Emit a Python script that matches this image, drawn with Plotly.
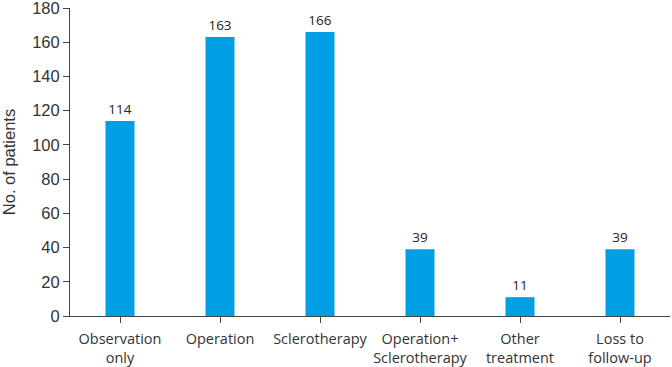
import plotly.graph_objects as go

categories = ["Observation<br>only", "Operation", "Sclerotherapy",
              "Operation+<br>Sclerotherapy", "Other<br>treatment", "Loss to<br>follow-up"]
values = [114, 163, 166, 39, 11, 39]
y_ticks = [0, 20, 40, 60, 80, 100, 120, 140, 160, 180]

fig = go.Figure(go.Bar(
    x=categories, y=values, text=[str(v) for v in values],
    textposition="outside", cliponaxis=False,
    marker=dict(color="#009fe3", line=dict(width=0)),
    textfont=dict(family="Open Sans", size=13.5, color="#222"),
    width=0.29,
))
fig.update_layout(
    width=672, height=367,
    margin=dict(l=70, r=2, t=8, b=51),
    plot_bgcolor="white", paper_bgcolor="white",
    font=dict(family="Liberation Sans", size=15, color="#333"),
    showlegend=False,
)
fig.update_xaxes(
    range=[-0.5, 5.5], showline=True, linecolor="#444", linewidth=1,
    ticks="outside", ticklen=6, tickcolor="#444", automargin=False,
    ticklabelstandoff=4,
    tickfont=dict(family="Open Sans", size=14.5, color="#333"), showgrid=False,
)
fig.update_yaxes(
    range=[0, 180], tickvals=y_ticks, showline=True, linecolor="#444", linewidth=1,
    ticks="outside", ticklen=6, tickcolor="#444", showgrid=False, zeroline=False,
    automargin=False, ticklabeloverflow="allow",
    tickfont=dict(family="Liberation Sans", size=16.5, color="#333"),
    title=dict(text="No. of patients", font=dict(family="Liberation Sans", size=16.5, color="#333"), standoff=14),
)
fig.write_html("out.html", config={"displayModeBar": False},
               post_script="document.body.style.margin='0';")
